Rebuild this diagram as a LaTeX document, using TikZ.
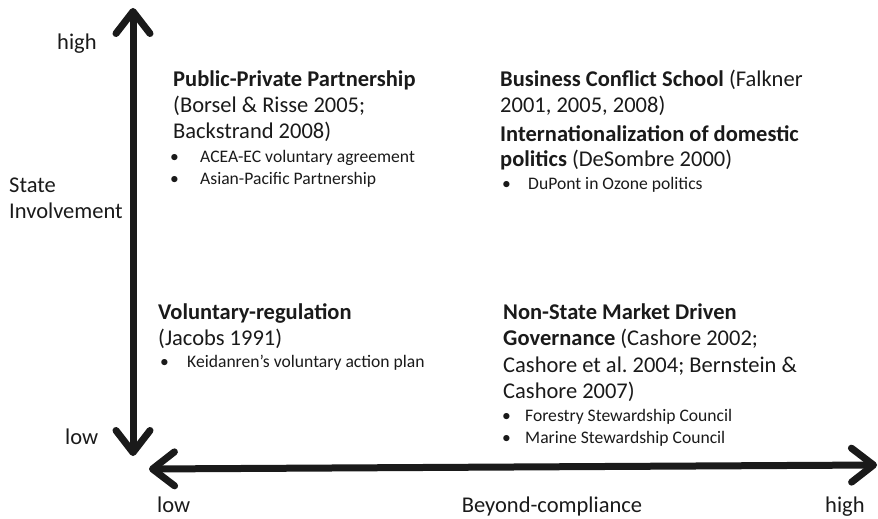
\documentclass[tikz,border=0pt]{standalone}
\usepackage{fontspec}
\setmainfont{Carlito}
\usetikzlibrary{arrows.meta}
\definecolor{ink}{HTML}{1A1A1A}
\frenchspacing
\begin{document}
\begin{tikzpicture}[x=1pt,y=-1pt,
  barb/.tip={Straight Barb[length=22pt,width=34pt,round]},
  axis/.style={line width=7pt, draw=ink, barb-barb},
  lbl/.style={anchor=base west, inner sep=0pt, text=ink, font=\fontsize{22.5}{27}\selectfont},
  itm/.style={anchor=base west, inner sep=0pt, text=ink, font=\fontsize{17.6}{21}\selectfont},
]
\useasboundingbox (0,0) rectangle (878,519);

% axes
\coordinate (ytop) at (133,8);
\coordinate (ybot) at (133,456);
\coordinate (xleft) at (149,469);
\coordinate (xright) at (877,465);
\draw[axis] (ybot) -- (ytop);
\draw[axis] (xleft) -- (xright);

% axis labels
\node[lbl] (yhigh) at (57,50) {high};
\node[lbl] (ylow) at (65,444) {low};
\node[lbl] (ytitleA) at (9,192) {State};
\node[lbl] (ytitleB) at (9,218) {Involvement};
\node[lbl] (xlow) at (157,512) {low};
\node[lbl, anchor=base] (xtitle) at (552,512) {Beyond-compliance};
\node[lbl] (xhigh) at (825,512) {high};

% top left quadrant
\node[lbl] (tl1) at (173,86) {\textbf{Public-Private Partnership}};
\node[lbl] (tl2) at (173,112) {(Borsel \& Risse 2005;};
\node[lbl] (tl3) at (173,138) {Backstrand 2008)};
\node[itm] (tlb1) at (170,162) {\textbullet};
\node[itm] (tli1) at (200,162) {ACEA-EC voluntary agreement};
\node[itm] (tlb2) at (170,184) {\textbullet};
\node[itm] (tli2) at (200,184) {Asian-Pacific Partnership};

% top right quadrant
\node[lbl] (tr1) at (500,86) {\textbf{Business Conflict School} (Falkner};
\node[lbl] (tr2) at (500,112) {2001, 2005, 2008)};
\node[lbl] (tr3) at (500,141) {\textbf{Internationalization of domestic}};
\node[lbl] (tr4) at (500,166) {\textbf{politics} (DeSombre 2000)};
\node[itm] (trb1) at (502,189) {\textbullet};
\node[itm] (tri1) at (528,189) {DuPont in Ozone politics};

% bottom left quadrant
\node[lbl] (bl1) at (158,319) {\textbf{Voluntary-regulation}};
\node[lbl] (bl2) at (158,345) {(Jacobs 1991)};
\node[itm] (blb1) at (160,367) {\textbullet};
\node[itm] (bli1) at (187,367) {Keidanren’s voluntary action plan};

% bottom right quadrant
\node[lbl] (br1) at (503,319) {\textbf{Non-State Market Driven}};
\node[lbl] (br2) at (503,345) {\textbf{Governance} (Cashore 2002;};
\node[lbl] (br3) at (503,372) {Cashore et al. 2004; Bernstein \&};
\node[lbl] (br4) at (503,398) {Cashore 2007)};
\node[itm] (brb1) at (502,421) {\textbullet};
\node[itm] (bri1) at (525,421) {Forestry Stewardship Council};
\node[itm] (brb2) at (502,443) {\textbullet};
\node[itm] (bri2) at (525,443) {Marine Stewardship Council};
\end{tikzpicture}
\end{document}
